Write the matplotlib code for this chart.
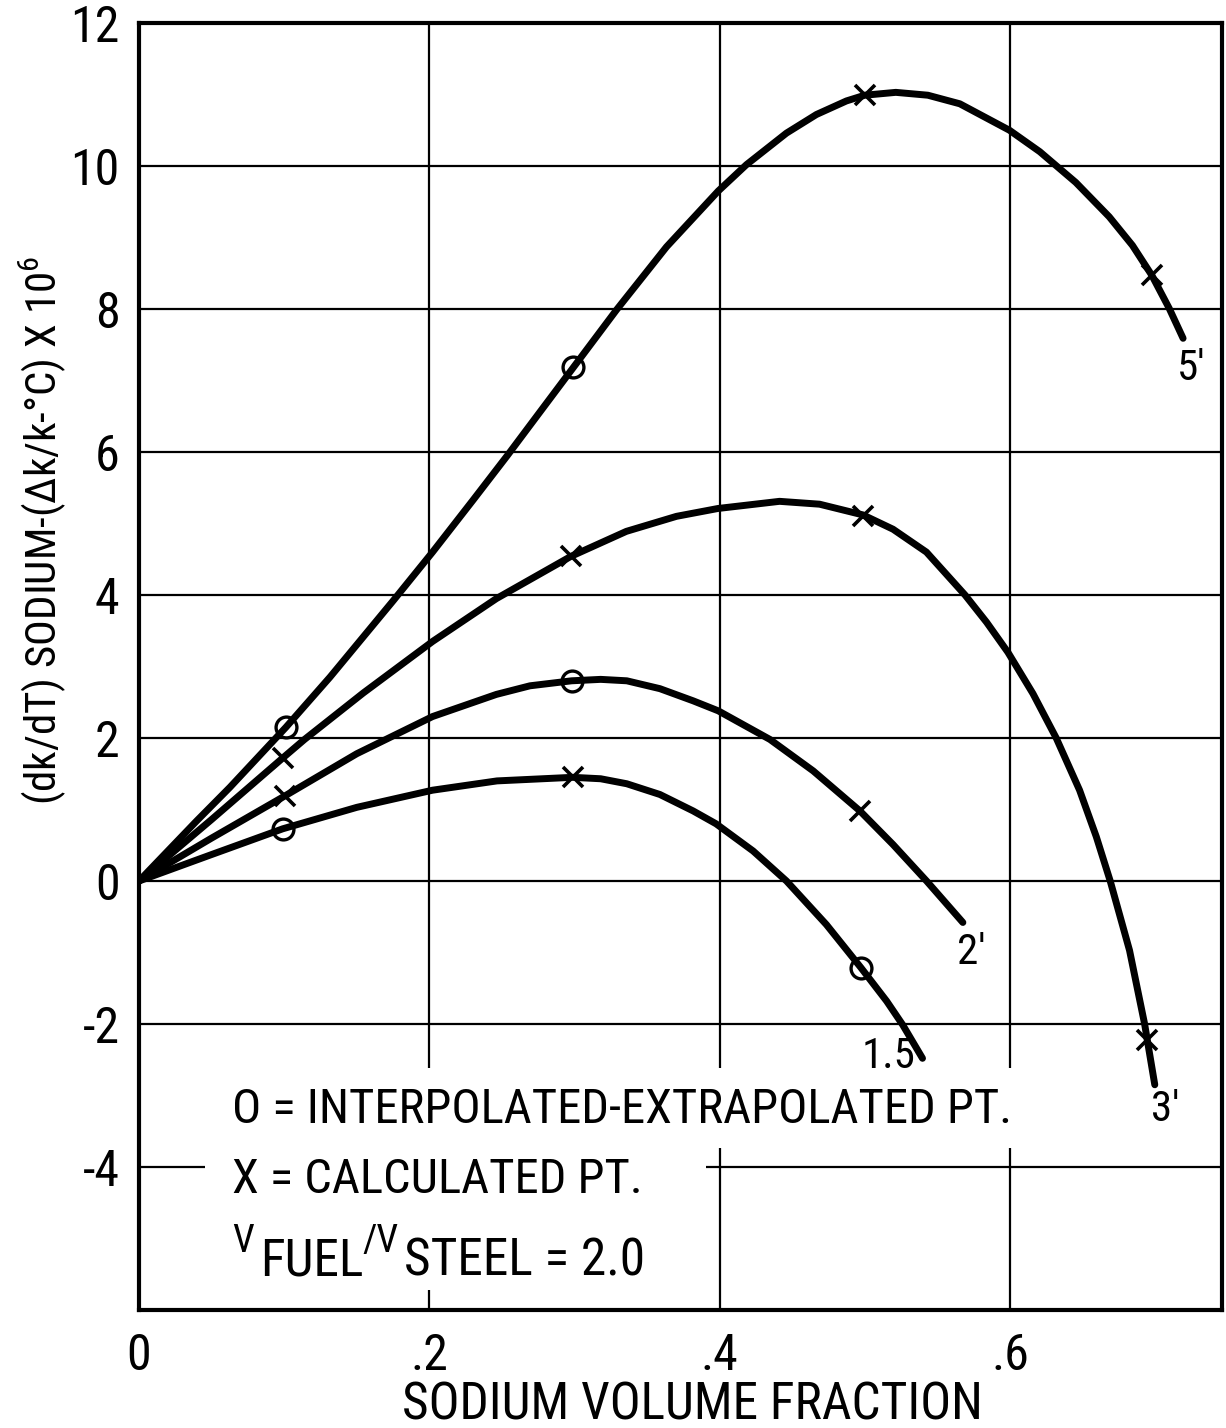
import matplotlib
matplotlib.use("Agg")
import matplotlib.pyplot as plt
from matplotlib.patches import Rectangle

plt.rcParams['font.family'] = ['Roboto Condensed', 'DejaVu Sans']
plt.rcParams['mathtext.fontset'] = 'custom'
plt.rcParams['mathtext.rm'] = 'Roboto Condensed'

# curves (sodium volume fraction, dk/dT x 1e6)
x5 = [0, 0.0397, 0.0626, 0.1012, 0.1315, 0.1751, 0.2022, 0.2302, 0.2537, 0.2762,
      0.2991, 0.329, 0.3634, 0.399, 0.4185, 0.446, 0.4666, 0.4873, 0.4999, 0.5213,
      0.5434, 0.5654, 0.5996, 0.6205, 0.6453, 0.6683, 0.6843, 0.6977, 0.7096, 0.7192]
y5 = [0, 0.84, 1.31, 2.15, 2.85, 3.92, 4.60, 5.33, 5.95, 6.56,
      7.18, 7.99, 8.87, 9.65, 10.02, 10.46, 10.72, 10.91, 10.99, 11.03,
      10.99, 10.87, 10.50, 10.20, 9.77, 9.29, 8.89, 8.47, 8.01, 7.59]

x3 = [0, 0.05, 0.099, 0.114, 0.1545, 0.2022, 0.2462, 0.2975, 0.3357, 0.3702, 0.3988,
      0.4412, 0.4688, 0.4987, 0.5194, 0.5424, 0.569, 0.5838, 0.5985, 0.6158, 0.6318,
      0.6479, 0.6594, 0.669, 0.6823, 0.6927, 0.6997]
y3 = [0, 0.86, 1.72, 1.98, 2.63, 3.35, 3.95, 4.54, 4.89, 5.10, 5.21,
      5.31, 5.27, 5.12, 4.92, 4.60, 4.0, 3.62, 3.20, 2.62, 2.0,
      1.27, 0.62, 0.0, -0.97, -2.0, -2.85]

x2 = [0, 0.05, 0.1005, 0.15, 0.2022, 0.2462, 0.2693, 0.298, 0.318, 0.336, 0.3588,
      0.3817, 0.399, 0.4346, 0.4644, 0.4966, 0.5194, 0.5425, 0.5675]
y2 = [0, 0.6, 1.19, 1.78, 2.30, 2.61, 2.73, 2.80, 2.82, 2.80, 2.69,
      2.52, 2.38, 1.98, 1.54, 0.98, 0.51, 0.0, -0.58]

x15 = [0, 0.05, 0.099, 0.15, 0.2022, 0.2466, 0.2987, 0.318, 0.336, 0.3588, 0.3817,
       0.3975, 0.423, 0.446, 0.4735, 0.4972, 0.515, 0.526, 0.5397]
y15 = [0, 0.37, 0.73, 1.03, 1.27, 1.40, 1.45, 1.43, 1.36, 1.21, 0.98,
       0.80, 0.42, 0.0, -0.61, -1.21, -1.68, -2.01, -2.48]

# o = interpolated-extrapolated points, x = calculated points
circ_x = [0.1012, 0.2991, 0.298, 0.099, 0.4972]
circ_y = [2.15, 7.19, 2.80, 0.73, -1.21]
cross_x = [0.4999, 0.6977, 0.099, 0.2975, 0.4987, 0.694, 0.1005, 0.4966, 0.2987]
cross_y = [11.0, 8.47, 1.72, 4.54, 5.11, -2.22, 1.19, 0.98, 1.45]

curve_names = ["5'", "3'", "2'", "1.5"]
name_x = [0.7245, 0.7066, 0.573, 0.516]
name_y = [7.17, -3.19, -1.0, -2.46]

xticks = [0, 0.2, 0.4, 0.6]
xtick_labels = ['0', '.2', '.4', '.6']
yticks = [-4, -2, 0, 2, 4, 6, 8, 10, 12]

W, H = 1226, 1428
fig = plt.figure(figsize=(W/100, H/100), dpi=100)
ax = fig.add_axes([139/W, 1-1310/H, (1222-139)/W, (1310-23)/H])

for xs, ys in [(x5, y5), (x3, y3), (x2, y2), (x15, y15)]:
    ax.plot(xs, ys, color='black', lw=5, solid_joinstyle='round',
            solid_capstyle='round', zorder=3)

ax.plot(circ_x, circ_y, 'o', ms=15, mfc='none', mec='black', mew=2.4, zorder=4)
ax.plot(cross_x, cross_y, 'x', ms=14, mec='black', mew=2.6, zorder=4)

for n, tx, ty in zip(curve_names, name_x, name_y):
    ax.text(tx, ty, n, fontsize=31, ha='center', va='center', zorder=5)

ax.set_xlim(0, 0.746)
ax.set_ylim(-6, 12)
ax.set_xticks(xticks)
ax.set_xticklabels(xtick_labels)
ax.set_yticks(yticks)
ax.set_yticklabels([str(v) for v in yticks])
ax.tick_params(axis='x', length=0, pad=16, labelsize=36)
ax.tick_params(axis='y', length=0, pad=14, labelsize=36)
ax.grid(True, color='black', lw=1.6)
ax.set_axisbelow(True)
for s in ax.spines.values():
    s.set_linewidth(3)

# white patches behind the note text (grid is broken there)
ax.add_patch(Rectangle((215/W, 1-1148/H), (1030-215)/W, (1148-1068)/H,
                       transform=fig.transFigure, facecolor='white', edgecolor='none', zorder=2))
ax.add_patch(Rectangle((205/W, 1-1290/H), (706-205)/W, (1290-1146)/H,
                       transform=fig.transFigure, facecolor='white', edgecolor='none', zorder=2))

fig.text(232/W, 1-1110/H, 'O = INTERPOLATED-EXTRAPOLATED PT.', fontsize=35,
         va='center', ha='left')
fig.text(232/W, 1-1180/H, 'X = CALCULATED PT.', fontsize=35,
         va='center', ha='left')
fig.text(232/W, 1-1252/H, 'V', fontsize=28, va='baseline', ha='left')
fig.text(260/W, 1-1276/H, 'FUEL', fontsize=37, va='baseline', ha='left')
fig.text(362/W, 1-1252/H, '/V', fontsize=28, va='baseline', ha='left')
fig.text(404/W, 1-1276/H, 'STEEL = 2.0', fontsize=37, va='baseline', ha='left')

fig.text(43/W, 1-530/H, '(dk/dT) SODIUM-(Δk/k-°C) X 10$^{6}$',
         rotation=90, fontsize=31, ha='center', va='center')
fig.text(692/W, 1-1405/H, 'SODIUM VOLUME FRACTION', fontsize=37,
         ha='center', va='center')

fig.savefig('out.png', dpi=100)
